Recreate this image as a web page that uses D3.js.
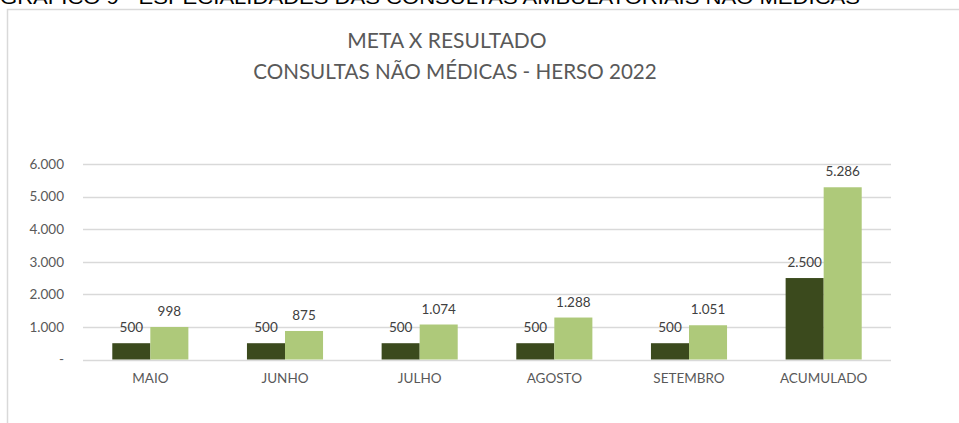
<!DOCTYPE html>
<html>
<head>
<meta charset="utf-8">
<script src="https://cdn.jsdelivr.net/npm/d3@7"></script>
<style>
  body { margin: 0; background: #fff; }
  text { font-family: Lato, "Open Sans", sans-serif; }
</style>
</head>
<body>
<div id="chart"></div>
<script>
var width = 959;
var height = 423;

// dados
var meses = ["MAIO", "JUNHO", "JULHO", "AGOSTO", "SETEMBRO", "ACUMULADO"];
var meta = [500, 500, 500, 500, 500, 2500];
var resultado = [998, 875, 1074, 1288, 1051, 5286];
var series = ["meta", "resultado"];
var yTicks = [0, 1000, 2000, 3000, 4000, 5000, 6000];

var cores = { meta: "#3b4a1d", resultado: "#aec97a" };

var locale = d3.formatLocale({ decimal: ",", thousands: ".", grouping: [3], currency: ["R$", ""] });
var fmt = locale.format(",d");

var dataset = meses.map(function(m, i){
    return { mes: m, meta: meta[i], resultado: resultado[i] };
});

var svg = d3.select("#chart")
    .append("svg")
    .attr("width", width)
    .attr("height", height);

// titulo cortado no topo (como na imagem original)
svg.append("text")
    .text("GRÁFICO 9 - ESPECIALIDADES DAS CONSULTAS AMBULATORIAIS NÃO MÉDICAS")
    .attr("x", 0)
    .attr("y", 4)
    .attr("textLength", 860)
    .attr("lengthAdjust", "spacingAndGlyphs")
    .style("font-family", "'Liberation Sans', Arial, sans-serif")
    .attr("font-size", "19px")
    .attr("fill", "#000");

// borda da area do grafico
svg.append("path")
    .attr("d", "M7.5," + height + " V9.5 H" + width)
    .attr("fill", "none")
    .attr("stroke", "#d9d9d9")
    .attr("stroke-width", 1.5);

svg.append("text")
    .text("META X RESULTADO")
    .attr("x", 447)
    .attr("y", 48)
    .attr("text-anchor", "middle")
    .attr("font-size", "21px")
    .attr("fill", "#595959");

svg.append("text")
    .text("CONSULTAS NÃO MÉDICAS - HERSO 2022")
    .attr("x", 455)
    .attr("y", 79)
    .attr("text-anchor", "middle")
    .attr("font-size", "20.6px")
    .attr("fill", "#595959");

var x0 = d3.scaleBand()
    .domain(meses)
    .range([83, 891]);

var x1 = d3.scaleBand()
    .domain(series)
    .range([0, x0.bandwidth()])
    .paddingOuter(0.77);

var y = d3.scaleLinear()
    .domain([0, 6000])
    .range([359.5, 164]);

// grade
svg.selectAll("line.grid")
    .data(yTicks)
    .enter()
    .append("line")
    .attr("class", "grid")
    .attr("x1", 83)
    .attr("x2", 891)
    .attr("y1", function(d){ return Math.round(y(d)) + 0.5; })
    .attr("y2", function(d){ return Math.round(y(d)) + 0.5; })
    .attr("stroke", "#d9d9d9")
    .attr("stroke-width", 1.5);

var yAxis = d3.axisLeft(y)
    .tickValues(yTicks)
    .tickSize(0)
    .tickPadding(19)
    .tickFormat(function(d){ return d === 0 ? "-" : fmt(d); });

var gy = svg.append("g")
    .attr("transform", "translate(83,0)")
    .call(yAxis);
gy.select(".domain").remove();
gy.selectAll("text")
    .attr("font-size", "13.5px")
    .attr("fill", "#595959")
    .style("font-family", "Lato, 'Open Sans', sans-serif");

var xAxis = d3.axisBottom(x0).tickSize(0).tickPadding(14);
var gx = svg.append("g")
    .attr("transform", "translate(0,359.5)")
    .call(xAxis);
gx.select(".domain").remove();
gx.selectAll("text")
    .attr("font-size", "13.5px")
    .attr("fill", "#595959")
    .style("font-family", "Lato, 'Open Sans', sans-serif");

var grupos = svg.selectAll("g.grupo")
    .data(dataset)
    .enter()
    .append("g")
    .attr("class", "grupo")
    .attr("transform", function(d){ return "translate(" + x0(d.mes) + ",0)"; });

var barras = grupos.selectAll("g.barra")
    .data(function(d){
        return series.map(function(s){ return { serie: s, valor: d[s] }; });
    })
    .enter()
    .append("g")
    .attr("class", "barra");

barras.append("rect")
    .attr("x", function(d){ return x1(d.serie); })
    .attr("y", function(d){ return y(d.valor); })
    .attr("width", x1.bandwidth())
    .attr("height", function(d){ return y(0) - y(d.valor); })
    .attr("fill", function(d){ return cores[d.serie]; });

barras.append("text")
    .text(function(d){ return fmt(d.valor); })
    .attr("x", function(d){ return x1(d.serie) + x1.bandwidth() / 2; })
    .attr("y", function(d){ return y(d.valor) - 11; })
    .attr("text-anchor", "middle")
    .attr("font-size", "13.5px")
    .attr("fill", "#404040");
</script>
</body>
</html>
